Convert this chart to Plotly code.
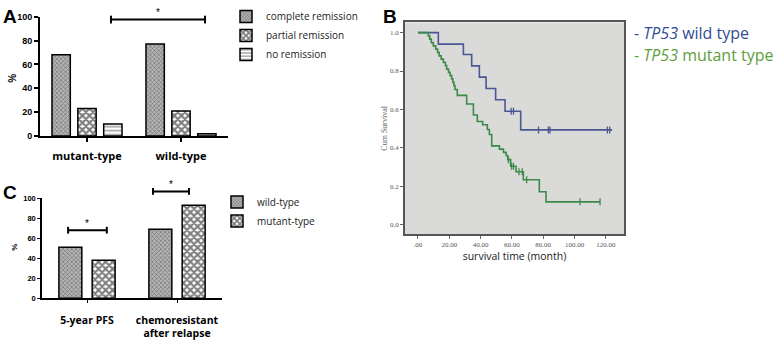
import plotly.graph_objects as go

W, H = 778, 342

# ---------------- data ----------------
# Panel A
a_categories = ["mutant-type", "wild-type"]
a_series_names = ["complete remission", "partial remission", "no remission"]
a_complete = [68, 77]
a_partial = [23, 21]
a_none = [10, 2]
a_ticks = [0, 20, 40, 60, 80, 100]

# Panel C
c_categories = ["5-year PFS", "chemoresistant<br>after relapse"]
c_series_names = ["wild-type", "mutant-type"]
c_wild = [51, 69]
c_mutant = [38, 93]
c_ticks = [0, 20, 40, 60, 80, 100]

# Panel B  (Kaplan-Meier steps)
wt_time = [0, 13, 29, 34.3, 39.2, 43.5, 49.6, 55.6, 65.6, 124]
wt_surv = [1.0, 0.94, 0.886, 0.827, 0.768, 0.709, 0.65, 0.59, 0.493, 0.493]
wt_cens_time = [59.5, 61.0, 77.0, 83.3, 84.3, 121.0, 122.5]
wt_cens_surv = [0.59, 0.59, 0.493, 0.493, 0.493, 0.493, 0.493]

mt_time = [0, 6.6, 7.5, 8.5, 9.8, 11.3, 12.5, 13.5, 14.8, 16.2, 17.5, 18.3, 19.5,
           20.5, 21.5, 22.3, 23.0, 23.6, 25.1, 31.1, 35.4, 37.9, 41.3, 44.3, 45.6,
           47.1, 52.0, 54.6, 56.3, 57.3, 59.2, 62.6, 67.3, 77.5, 81.8, 116.3]
mt_surv = [1.0, 0.983, 0.966, 0.948, 0.931, 0.914, 0.897, 0.879, 0.862, 0.845, 0.828,
           0.810, 0.793, 0.776, 0.759, 0.741, 0.724, 0.704, 0.673, 0.628, 0.571, 0.537,
           0.520, 0.495, 0.469, 0.410, 0.393, 0.376, 0.360, 0.338, 0.304, 0.275, 0.233,
           0.171, 0.118, 0.118]
mt_cens_time = [57.8, 59.8, 61.0, 64.5, 66.6, 69.4, 103.5, 116.3]
mt_cens_surv = [0.338, 0.304, 0.304, 0.275, 0.275, 0.233, 0.118, 0.118]

b_xticks = [0, 20, 40, 60, 80, 100, 120]
b_xticktext = [".00", "20.00", "40.00", "60.00", "80.00", "100.00", "120.00"]
b_yticks = [0.0, 0.2, 0.4, 0.6, 0.8, 1.0]


def px(x):
    return x / W


def py(y):
    return 1 - y / H


SANS = "Liberation Sans"
LEG = "Open Sans"
SERIF = "Liberation Serif"

pat_fine = dict(shape="x", fgcolor="#2e2e2e", bgcolor="#b5b5b5", size=3, solidity=0.4)
pat_check = dict(shape="x", fgcolor="#000000", bgcolor="#ffffff", size=5, solidity=0.68)
pat_lines = dict(shape="-", fgcolor="#555555", bgcolor="#ffffff", size=4, solidity=0.45)
bar_line = dict(color="black", width=1.5)

fig = go.Figure()

# ---------- Panel A bars ----------
a_w = 0.195
a_centers = [-0.275, 0.0, 0.275]
for vals, name, pat, c in zip([a_complete, a_partial, a_none], a_series_names,
                              [pat_fine, pat_check, pat_lines], a_centers):
    fig.add_trace(go.Bar(
        x=a_categories, y=vals, name=name, width=a_w, offset=c - a_w / 2,
        marker=dict(color="white", pattern=pat, line=bar_line),
        xaxis="x", yaxis="y", legend="legend", hoverinfo="skip"))

# ---------- Panel C bars ----------
c_w = 0.255
c_centers = [-0.185, 0.185]
for vals, name, pat, c in zip([c_wild, c_mutant], c_series_names,
                              [pat_fine, pat_check], c_centers):
    fig.add_trace(go.Bar(
        x=c_categories, y=vals, name=name, width=c_w, offset=c - c_w / 2,
        marker=dict(color="white", pattern=pat, line=bar_line),
        xaxis="x2", yaxis="y2", legend="legend2", hoverinfo="skip"))

# ---------- Panel B KM curves ----------
blue = "#4a5794"
green = "#3d8a48"
fig.add_trace(go.Scatter(x=wt_time, y=wt_surv, mode="lines", line=dict(color=blue, width=1.6, shape="hv"),
                         xaxis="x3", yaxis="y3", showlegend=False, hoverinfo="skip"))
fig.add_trace(go.Scatter(x=mt_time, y=mt_surv, mode="lines", line=dict(color=green, width=1.6, shape="hv"),
                         xaxis="x3", yaxis="y3", showlegend=False, hoverinfo="skip"))
fig.add_trace(go.Scatter(x=wt_cens_time, y=wt_cens_surv, mode="markers",
                         marker=dict(symbol="line-ns", size=5, line=dict(color=blue, width=1.3)),
                         xaxis="x3", yaxis="y3", showlegend=False, hoverinfo="skip"))
fig.add_trace(go.Scatter(x=mt_cens_time, y=mt_cens_surv, mode="markers",
                         marker=dict(symbol="line-ns", size=5, line=dict(color=green, width=1.3)),
                         xaxis="x3", yaxis="y3", showlegend=False, hoverinfo="skip"))

bold_tick = dict(family=SANS, size=9, color="black", weight="bold")

fig.update_layout(
    width=W, height=H, margin=dict(l=0, r=0, t=0, b=0),
    paper_bgcolor="white", plot_bgcolor="rgba(0,0,0,0)",
    barmode="overlay", showlegend=True,
    xaxis=dict(domain=[px(40), px(228)], anchor="y", range=[-0.5, 1.5],
               showline=True, linecolor="black", linewidth=2, ticks="outside", ticklen=4,
               tickwidth=1.5, tickcolor="black", showgrid=False, zeroline=False,
               tickfont=dict(family=LEG, size=11, color="black", weight="bold"),
               ticklabelstandoff=5),
    yaxis=dict(domain=[py(135), py(12)], anchor="x", range=[0, 100], tickvals=a_ticks,
               showline=True, linecolor="black", linewidth=2, ticks="outside", ticklen=4,
               tickwidth=1.5, tickcolor="black", showgrid=False, zeroline=False,
               tickfont=bold_tick),
    xaxis2=dict(domain=[px(42), px(222)], anchor="y2", range=[-0.5, 1.5],
                showline=True, linecolor="black", linewidth=1.5, ticks="outside", ticklen=3,
                tickwidth=1.2, tickcolor="black", showgrid=False, zeroline=False,
                tickfont=dict(family=LEG, size=10.5, color="black", weight="bold"),
                ticklabelstandoff=8),
    yaxis2=dict(domain=[py(302), py(199)], anchor="x2", range=[0, 100], tickvals=c_ticks,
                showline=True, linecolor="black", linewidth=1.5, ticks="outside", ticklen=3,
                tickwidth=1.2, tickcolor="black", showgrid=False, zeroline=False,
                tickfont=dict(family=SANS, size=7.5, color="black", weight="bold")),
    xaxis3=dict(domain=[px(405), px(624)], anchor="y3", range=[-8.3, 131.6],
                tickvals=b_xticks, ticktext=b_xticktext,
                showline=True, mirror=True, linecolor="#555555", linewidth=1.5,
                ticks="outside", ticklen=3, tickcolor="#666666", showgrid=False, zeroline=False,
                tickfont=dict(family=SERIF, size=7, color="#555555"),
                title=dict(text="survival time (month)", standoff=4,
                           font=dict(family=LEG, size=10.5, color="#222222"))),
    yaxis3=dict(domain=[py(236), py(18)], anchor="x3", range=[-0.05, 1.053],
                tickvals=b_yticks, tickformat=".1f",
                showline=True, mirror=True, linecolor="#555555", linewidth=1.5,
                ticks="outside", ticklen=3, tickcolor="#666666", showgrid=False, zeroline=False,
                tickfont=dict(family=SERIF, size=7, color="#555555"),
                title=dict(text="Cum Survival", standoff=1,
                           font=dict(family=SERIF, size=8, color="#666666"))),
    legend=dict(x=px(226), y=py(-3), xanchor="left", yanchor="top",
                font=dict(family=LEG, size=10, color="#222222"), bgcolor="rgba(0,0,0,0)",
                tracegroupgap=0, itemclick=False, itemdoubleclick=False),
    legend2=dict(x=px(217), y=py(188), xanchor="left", yanchor="top",
                 font=dict(family=LEG, size=10, color="#222222"), bgcolor="rgba(0,0,0,0)",
                 tracegroupgap=0, itemclick=False, itemdoubleclick=False),
)

shapes = []
# gray plotting area of panel B
shapes.append(dict(type="rect", xref="x3 domain", yref="y3 domain", x0=0, x1=1, y0=0, y1=1,
                   fillcolor="#dadad8", line=dict(width=0), layer="below"))


def bracket(xref, x0, x1, ypix, half=4):
    ln = dict(color="black", width=2)
    return [
        dict(type="line", xref=xref, yref="paper", x0=x0, x1=x1, y0=py(ypix), y1=py(ypix), line=ln),
        dict(type="line", xref=xref, yref="paper", x0=x0, x1=x0, y0=py(ypix - half), y1=py(ypix + half), line=ln),
        dict(type="line", xref=xref, yref="paper", x0=x1, x1=x1, y0=py(ypix - half), y1=py(ypix + half), line=ln),
    ]


shapes += bracket("x", 0.255, 1.255, 15)
shapes += bracket("x2", -0.21, 0.22, 232, 3.5)
shapes += bracket("x2", 0.733, 1.133, 192, 3.5)
fig.update_layout(shapes=shapes)

ann = []


def add_text(text, x, y, size, xref="paper", yref="paper", xanchor="center", yanchor="middle",
             family=SANS, color="black", weight="normal", angle=0):
    ann.append(dict(text=text, x=x, y=y, xref=xref, yref=yref, xanchor=xanchor, yanchor=yanchor,
                    showarrow=False, textangle=angle,
                    font=dict(family=family, size=size, color=color, weight=weight)))


add_text("A", px(1), py(-1), 19, xanchor="left", yanchor="top", weight="bold")
add_text("B", px(381), py(-1), 19, xanchor="left", yanchor="top", weight="bold")
add_text("C", px(1), py(180), 19, xanchor="left", yanchor="top", weight="bold")
add_text("%", px(13), py(75), 10, weight="bold", angle=-90)
add_text("%", px(15), py(250), 8, weight="bold", angle=-90)
add_text("*", 0.755, py(8), 10, xref="x", color="#000000")
add_text("*", 0.005, py(225), 10, xref="x2", color="#000000")
add_text("*", 0.933, py(185), 10, xref="x2", color="#000000")
add_text("- <i>TP53</i> wild type", px(632), py(29), 16, xanchor="left", family=LEG, color="#2f4d93")
add_text("- <i>TP53</i> mutant type", px(632), py(51), 16, xanchor="left", family=LEG, color="#5e9e3c")
fig.update_layout(annotations=ann)

fig.write_html("out.html", config={"displayModeBar": False},
               post_script="document.body.style.margin='0px';document.body.style.overflow='hidden';")
